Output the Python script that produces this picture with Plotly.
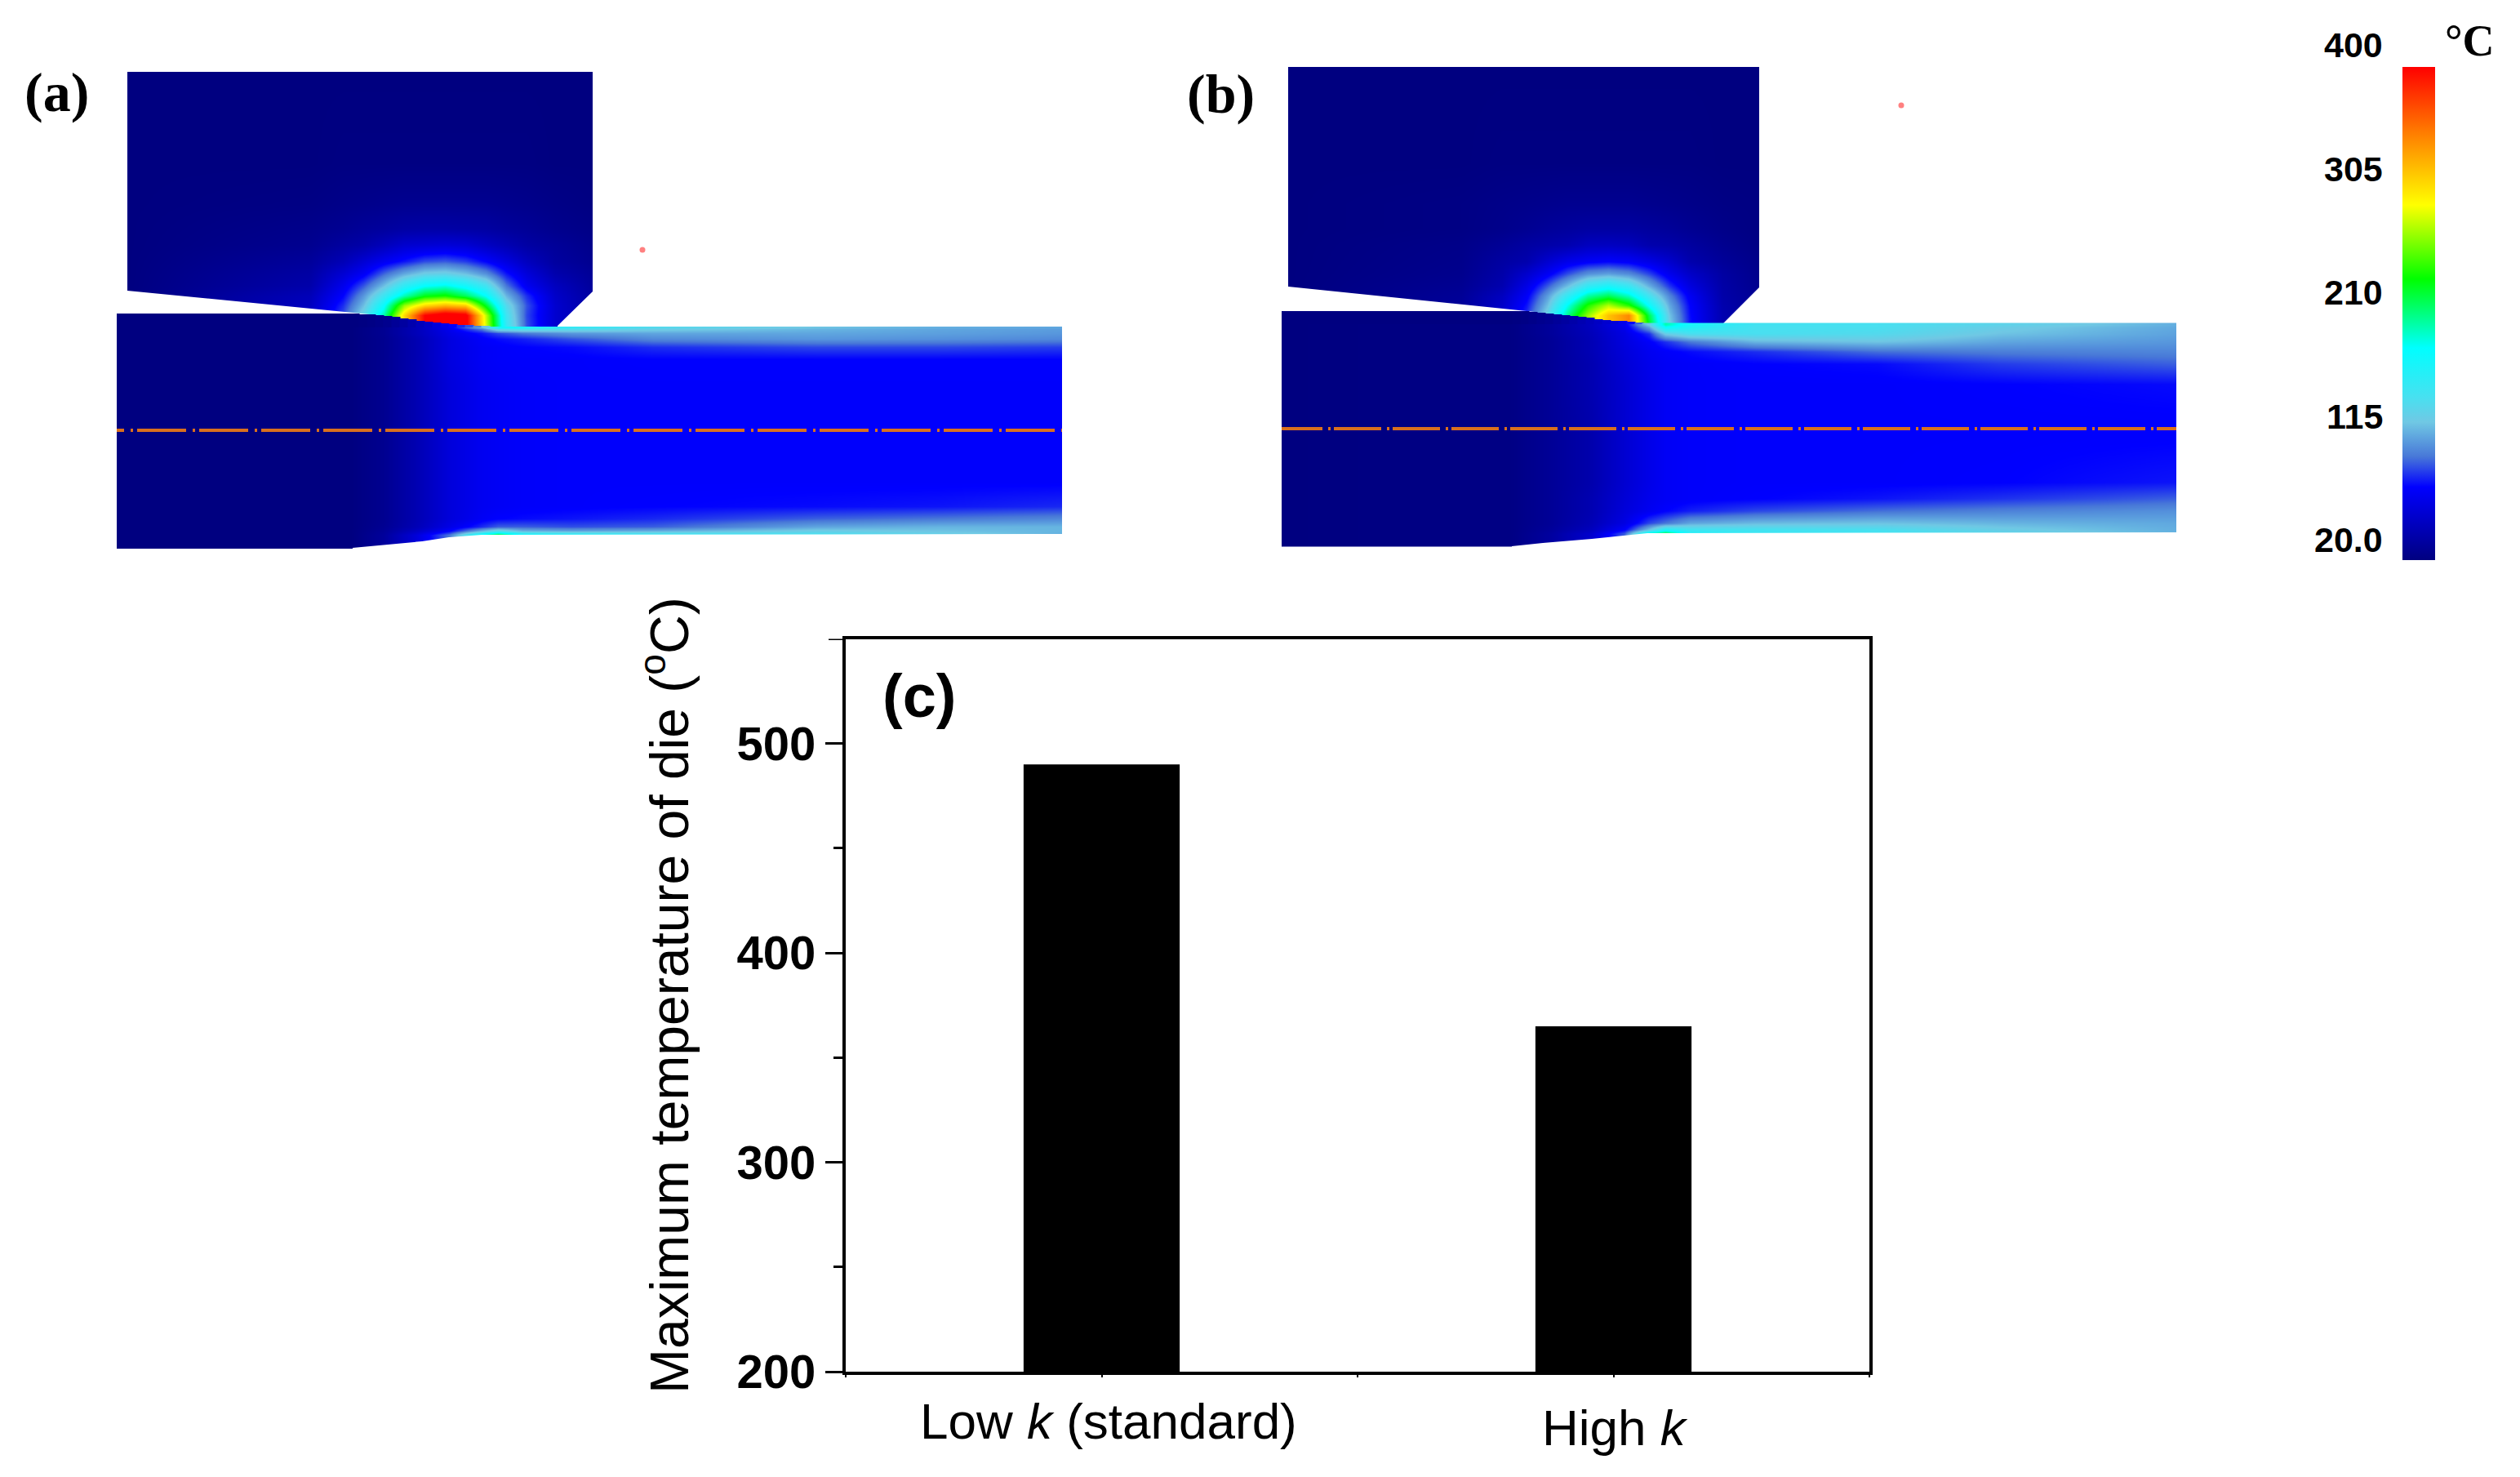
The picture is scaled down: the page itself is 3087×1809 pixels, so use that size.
import plotly.graph_objects as go

W, H = 3087, 1809

# ---------- panel (c) data ----------
bar_x = [1, 3]
bar_values = [490, 365]
bar_labels = ["Low <i>k</i> (standard)", "High <i>k</i>"]
y_title = "Maximum temperature of die (<sup>o</sup>C)"
y_ticks = [200, 300, 400, 500]
y_ticktext = ["200", "300", "400", "500"]
y_minor = [250, 350, 450]
y_top_tick = 550
x_ticks = [0, 1, 2, 3, 4]

# ---------- colour scale ----------
cbar_labels = ["400", "305", "210", "115", "20.0"]
cbar_label_y = [55, 207, 358, 510, 661]
temp_scale = [
    [0.0, "#000080"], [0.148, "#0000ff"], [0.21, "#4878d8"], [0.28, "#70c8e4"],
    [0.33, "#48e0f0"], [0.43, "#00ffff"], [0.57, "#00ff00"], [0.72, "#ffff00"],
    [0.85, "#ff8c00"], [1.0, "#ff0000"],
]

# ---------- panel (a): die temperature field ----------
die_a_x = [156, 380, 420, 445, 470, 495, 520, 545, 570, 595, 620, 645, 680, 726]
die_a_y = [88, 200, 250, 280, 300, 320, 335, 350, 362, 374, 386, 400]
die_a_T = [
    [20, 20, 20, 20, 20, 20, 20, 20, 20, 20, 20, 20, 20, 20],
    [20, 20, 21, 21, 21, 21, 21, 21, 21, 21, 21, 21, 20, 20],
    [20, 22, 24, 25, 26, 27, 27, 27, 27, 27, 26, 25, 23, 21],
    [20, 25, 28, 31, 33, 36, 37, 37, 36, 35, 32, 30, 26, 23],
    [20, 27, 34, 38, 46, 55, 57, 59, 57, 50, 43, 36, 31, 25],
    [20, 32, 44, 57, 70, 80, 91, 94, 88, 76, 62, 48, 34, 27],
    [20, 36, 57, 72, 96, 116, 130, 133, 124, 108, 80, 60, 40, 30],
    [20, 39, 68, 93, 124, 160, 183, 190, 175, 150, 100, 70, 48, 32],
    [20, 45, 76, 110, 152, 198, 232, 240, 218, 183, 120, 85, 52, 34],
    [20, 48, 85, 123, 180, 270, 310, 325, 315, 230, 140, 92, 55, 35],
    [20, 50, 92, 137, 200, 310, 400, 420, 410, 280, 150, 90, 55, 36],
    [20, 50, 92, 137, 200, 310, 400, 420, 410, 285, 155, 92, 55, 36],
]
# ---------- panel (a): workpiece temperature field ----------
work_a_x = [143, 430, 470, 510, 550, 590, 610, 640, 700, 800, 1000, 1150, 1301]
work_a_y = [401, 403, 408, 415, 425, 440, 470, 590, 620, 635, 645, 650, 655, 671]
work_a_T = [
    [20, 20, 28, 45, 70, 120, 175, 170, 155, 140, 125, 118, 115],
    [20, 20, 28, 45, 68, 100, 140, 145, 140, 130, 120, 115, 112],
    [20, 20, 28, 45, 65, 80, 90, 100, 110, 115, 115, 113, 110],
    [20, 20, 27, 42, 62, 74, 78, 82, 92, 105, 110, 108, 105],
    [20, 20, 27, 42, 62, 72, 74, 76, 78, 85, 90, 90, 88],
    [20, 20, 27, 42, 62, 72, 74, 75, 75, 76, 76, 76, 76],
    [20, 20, 27, 42, 60, 70, 72, 74, 75, 75, 75, 75, 75],
    [20, 20, 27, 42, 60, 70, 72, 74, 75, 75, 75, 75, 75],
    [20, 20, 27, 42, 60, 70, 72, 74, 75, 76, 78, 80, 84],
    [20, 20, 27, 42, 60, 72, 76, 78, 80, 84, 95, 100, 105],
    [20, 20, 28, 44, 65, 85, 95, 95, 92, 95, 115, 120, 120],
    [20, 20, 30, 50, 75, 120, 140, 120, 115, 118, 130, 125, 120],
    [20, 20, 32, 60, 100, 190, 230, 180, 170, 160, 150, 135, 118],
    [20, 20, 32, 60, 100, 190, 230, 180, 170, 160, 150, 135, 118],
]
# surface wedge of the workpiece under the sloping die face
edge_a_x = [286, 435, 445, 455, 465, 475, 485, 495, 505, 515, 525, 535, 545, 555, 565, 575, 585, 595, 605]
edge_a_top = [384, 384, 385, 385, 386, 387, 388, 390, 391, 393, 394, 395, 396, 397, 398, 398, 399, 399, 400]
edge_a_T = [20, 20, 21, 22, 24, 26, 30, 34, 40, 46, 52, 60, 68, 76, 84, 92, 105, 125, 150]
edge_a_w = [291, 11, 11, 11, 11, 11, 11, 11, 11, 11, 11, 11, 11, 11, 11, 11, 11, 11, 11]

die_a_left_x = [140, 156, 156, 463, 463, 140, 140]
die_a_left_y = [80, 80, 356, 386, 402, 402, 80]
die_a_right_x = [683, 726, 726, 1305, 1305, 683, 683]
die_a_right_y = [399, 357, 80, 80, 402, 402, 399]
die_a_top_x = [140, 1305, 1305, 140, 140]
die_a_top_y = [80, 80, 88, 88, 80]
work_a_low_x = [432, 467, 517, 550, 590, 620, 1301, 1301, 432, 432]
work_a_low_y = [671, 668, 663, 658, 655, 655, 654, 675, 675, 671]
center_a_x = [92, 1301]
center_a_y = [527, 527]
spot_a = ([787], [306])

# ---------- panel (b): die temperature field ----------
die_b_x = [1578, 1790, 1840, 1870, 1895, 1920, 1945, 1970, 1995, 2020, 2045, 2070, 2110, 2155]
die_b_y = [82, 200, 250, 280, 300, 320, 335, 350, 362, 374, 386, 400]
die_b_T = [
    [20, 20, 20, 20, 20, 20, 20, 20, 20, 20, 20, 20, 20, 20],
    [20, 20, 21, 21, 21, 21, 21, 21, 21, 21, 21, 21, 20, 20],
    [20, 22, 24, 25, 26, 27, 27, 27, 27, 26, 25, 24, 22, 21],
    [20, 22, 25, 28, 31, 33, 35, 35, 35, 33, 31, 28, 24, 21],
    [20, 24, 30, 35, 38, 41, 48, 49, 47, 40, 38, 34, 27, 22],
    [20, 25, 35, 40, 55, 67, 73, 76, 73, 65, 54, 40, 31, 24],
    [20, 26, 38, 54, 71, 91, 108, 113, 106, 89, 68, 52, 35, 25],
    [20, 28, 41, 65, 93, 123, 157, 170, 153, 118, 86, 62, 37, 26],
    [20, 30, 48, 73, 111, 157, 202, 218, 195, 148, 104, 71, 38, 28],
    [20, 31, 52, 80, 123, 187, 243, 277, 245, 180, 116, 76, 40, 28],
    [20, 33, 55, 86, 135, 207, 270, 320, 345, 220, 125, 78, 41, 29],
    [20, 33, 55, 86, 135, 207, 270, 320, 345, 235, 130, 80, 41, 29],
]
# ---------- panel (b): workpiece temperature field ----------
work_b_x = [1570, 1852, 1900, 1950, 1990, 2020, 2040, 2070, 2150, 2300, 2450, 2666]
work_b_y = [397, 400, 408, 418, 430, 445, 470, 525, 590, 610, 625, 640, 648, 653, 669]
work_b_T = [
    [20, 22, 32, 48, 70, 130, 200, 170, 148, 145, 135, 118],
    [20, 22, 32, 48, 68, 115, 180, 165, 146, 145, 130, 116],
    [20, 22, 32, 46, 64, 85, 130, 145, 145, 140, 125, 114],
    [20, 22, 30, 44, 62, 74, 85, 100, 120, 125, 115, 110],
    [20, 22, 30, 44, 60, 70, 74, 78, 85, 98, 102, 104],
    [20, 22, 30, 42, 58, 68, 72, 74, 76, 78, 88, 95],
    [20, 22, 30, 42, 56, 66, 72, 74, 75, 75, 76, 78],
    [20, 22, 30, 40, 56, 66, 72, 74, 75, 75, 75, 75],
    [20, 22, 30, 40, 56, 66, 72, 74, 75, 75, 76, 80],
    [20, 22, 30, 42, 58, 68, 72, 74, 76, 80, 86, 95],
    [20, 22, 30, 42, 60, 70, 76, 82, 90, 98, 103, 108],
    [20, 22, 30, 44, 64, 90, 100, 115, 122, 125, 120, 116],
    [20, 22, 32, 48, 75, 125, 165, 150, 148, 145, 130, 118],
    [20, 22, 34, 55, 95, 200, 230, 170, 155, 150, 138, 120],
    [20, 22, 34, 55, 95, 200, 230, 170, 155, 150, 138, 120],
]
edge_b_x = [1711, 1858, 1868, 1878, 1888, 1898, 1908, 1918, 1928, 1938, 1948, 1958, 1968, 1978, 1988, 1998, 2008, 2017]
edge_b_top = [381, 381, 381, 382, 383, 384, 385, 386, 387, 388, 389, 391, 392, 393, 393, 394, 395, 396]
edge_b_T = [20, 21, 22, 24, 26, 28, 31, 34, 38, 42, 46, 50, 55, 60, 68, 78, 95, 125]
edge_b_w = [287, 11, 11, 11, 11, 11, 11, 11, 11, 11, 11, 11, 11, 11, 11, 11, 11, 11]

die_b_left_x = [1565, 1578, 1578, 1880, 1880, 1565, 1565]
die_b_left_y = [76, 76, 351, 382, 402, 402, 76]
die_b_right_x = [2111, 2155, 2155, 2670, 2670, 2111, 2111]
die_b_right_y = [396, 352, 76, 76, 402, 402, 396]
die_b_top_x = [1565, 2670, 2670, 1565, 1565]
die_b_top_y = [76, 76, 82, 82, 76]
work_b_low_x = [1852, 1890, 1950, 1990, 2018, 2666, 2666, 1852, 1852]
work_b_low_y = [669, 665, 660, 656, 653, 652, 673, 673, 669]
center_b_x = [1562, 2666]
center_b_y = [525, 525]
spot_b = ([2329], [129])


def fx(px):
    return px / W


def fy(py):
    return 1 - py / H


fig = go.Figure()


def panel(xa, ya, xb, yb, die, work, edge, masks, low, center, spot, dash):
    fig.add_trace(go.Heatmap(x=die[0], y=die[1], z=die[2], coloraxis="coloraxis",
                             zsmooth="best", xaxis=xa, yaxis=ya, hoverinfo="skip"))
    for px, py in masks:
        fig.add_trace(go.Scatter(x=px, y=py, mode="lines", fill="toself", fillcolor="white",
                                 line=dict(width=0), xaxis=xa, yaxis=ya, hoverinfo="skip"))
    fig.add_trace(go.Scatter(x=spot[0], y=spot[1], mode="markers", xaxis=xa, yaxis=ya,
                             marker=dict(size=7, color="#ff8080"), hoverinfo="skip"))
    fig.add_trace(go.Heatmap(x=work[0], y=work[1], z=work[2], coloraxis="coloraxis",
                             zsmooth="best", xaxis=xb, yaxis=yb, hoverinfo="skip"))
    fig.add_trace(go.Bar(x=edge[0], base=edge[1], y=[max(work[1][0] - t, 0) for t in edge[1]],
                         width=edge[3], marker=dict(color=edge[2], coloraxis="coloraxis", line=dict(width=0)),
                         xaxis=xb, yaxis=yb, hoverinfo="skip"))
    fig.add_trace(go.Scatter(x=low[0], y=low[1], mode="lines", fill="toself", fillcolor="white",
                             line=dict(width=0), xaxis=xb, yaxis=yb, hoverinfo="skip"))
    fig.add_trace(go.Scatter(x=center[0], y=center[1], mode="lines", xaxis=xb, yaxis=yb,
                             line=dict(color="#d9701e", width=4, dash=dash), hoverinfo="skip"))


panel("x", "y", "x2", "y2",
      (die_a_x, die_a_y, die_a_T), (work_a_x, work_a_y, work_a_T),
      (edge_a_x, edge_a_top, edge_a_T, edge_a_w),
      [(die_a_left_x, die_a_left_y), (die_a_right_x, die_a_right_y), (die_a_top_x, die_a_top_y)],
      (work_a_low_x, work_a_low_y), (center_a_x, center_a_y), spot_a, "60px,8px,3px,5px")
panel("x3", "y3", "x4", "y4",
      (die_b_x, die_b_y, die_b_T), (work_b_x, work_b_y, work_b_T),
      (edge_b_x, edge_b_top, edge_b_T, edge_b_w),
      [(die_b_left_x, die_b_left_y), (die_b_right_x, die_b_right_y), (die_b_top_x, die_b_top_y)],
      (work_b_low_x, work_b_low_y), (center_b_x, center_b_y), spot_b, "58px,7px,3px,4px")

fig.add_trace(go.Bar(x=bar_x, y=bar_values, base=0, width=0.61, marker=dict(color="black", line=dict(width=0)),
                     xaxis="x5", yaxis="y5", hoverinfo="skip"))

hidden = dict(visible=False, showgrid=False, zeroline=False, fixedrange=True)
dom_a = [fx(143), fx(1301)]
dom_b = [fx(1570), fx(2666)]
dom_y_a = [fy(672), fy(84)]
dom_y_b = [fy(670), fy(80)]
layout = dict(
    width=W, height=H, margin=dict(l=0, r=0, t=0, b=0, autoexpand=False),
    paper_bgcolor="white", plot_bgcolor="white", showlegend=False, barmode="overlay",
    coloraxis=dict(cmin=20, cmax=400, colorscale=temp_scale,
                   colorbar=dict(x=fx(2943), xanchor="left", y=fy(82), yanchor="top",
                                 lenmode="pixels", len=604, thicknessmode="pixels", thickness=40,
                                 xpad=0, ypad=0, outlinewidth=0, showticklabels=False, ticks="")),
    xaxis=dict(hidden, domain=dom_a, range=[143, 1301]),
    yaxis=dict(hidden, domain=dom_y_a, range=[672, 84]),
    xaxis2=dict(hidden, domain=dom_a, range=[143, 1301], overlaying="x"),
    yaxis2=dict(hidden, domain=dom_y_a, range=[672, 84], overlaying="y"),
    xaxis3=dict(hidden, domain=dom_b, range=[1570, 2666]),
    yaxis3=dict(hidden, domain=dom_y_b, range=[670, 80]),
    xaxis4=dict(hidden, domain=dom_b, range=[1570, 2666], overlaying="x3"),
    yaxis4=dict(hidden, domain=dom_y_b, range=[670, 80], overlaying="y3"),
    xaxis5=dict(domain=[fx(1036), fx(2290)], range=[0, 4], anchor="y5", tickmode="array", tickvals=x_ticks,
                showticklabels=False, ticks="outside", ticklen=3, tickwidth=2, tickcolor="black",
                showline=True, linecolor="black", linewidth=4, mirror=True, showgrid=False, zeroline=False),
    yaxis5=dict(domain=[fy(1680), fy(782.5)], range=[200, 550], anchor="x5", tickmode="array",
                tickvals=y_ticks, ticktext=y_ticktext, ticks="outside", ticklen=21, tickwidth=3,
                tickcolor="black", showline=True, linecolor="black", linewidth=4, mirror=True,
                showgrid=False, zeroline=False,
                tickfont=dict(family="Liberation Sans", size=58, color="black", weight="bold"),
                minor=dict(tickmode="array", tickvals=y_minor, ticks="outside", ticklen=11, tickwidth=3,
                           tickcolor="black", showgrid=False)),
    shapes=[dict(type="line", xref="x5 domain", yref="y5", x0=-21 / 1254, x1=0, y0=y_top_tick, y1=y_top_tick,
                 line=dict(color="black", width=3))],
)
fig.update_layout(**layout)


def note(text, px, py, family, size, bold=True, xanchor="center", yanchor="middle", angle=0):
    fig.add_annotation(text=text, xref="paper", yref="paper", x=fx(px), y=fy(py), showarrow=False,
                       xanchor=xanchor, yanchor=yanchor, textangle=angle,
                       font=dict(family=family, size=size, color="black", weight="bold" if bold else "normal"))


note("(a)", 69, 113, "Liberation Serif", 68)
note("(b)", 1495, 115, "Liberation Serif", 68)
note("°C", 3025, 50, "Liberation Serif", 54)
note("(c)", 1126, 852, "Liberation Sans", 74)
for lab, ly in zip(cbar_labels, cbar_label_y):
    note(lab, 2921, ly, "Liberation Sans", 43, xanchor="right")
note(y_title, 815, 1219, "Liberation Sans", 66, bold=False, angle=-90)
note(bar_labels[0], 1358, 1740, "Liberation Sans", 62, bold=False)
note(bar_labels[1], 1978, 1748, "Liberation Sans", 62, bold=False)

fig.write_html("out.html", config=dict(displayModeBar=False),
               post_script="document.body.style.margin='0';")
